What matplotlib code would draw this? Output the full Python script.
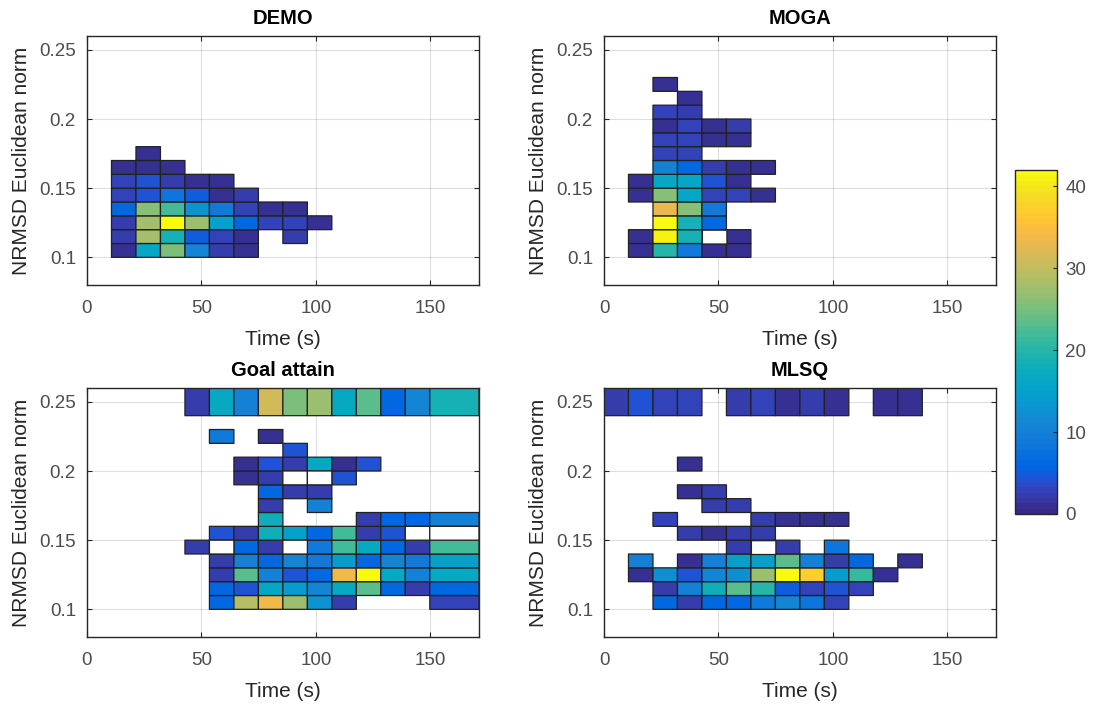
import numpy as np
import matplotlib
matplotlib.use("Agg")
import matplotlib.pyplot as plt
from matplotlib.colors import ListedColormap, Normalize
from matplotlib.cm import ScalarMappable

plt.rcParams['font.family'] = ['Liberation Sans', 'DejaVu Sans']

_ = np.nan

# ---------------- data ----------------
time_edges = [0, 10.7, 21.4, 32.1, 42.8, 53.5, 64.2, 74.9, 85.6, 96.3,
              107.0, 117.7, 128.4, 139.1, 149.8, 171.3]
nrmsd_edges = [0.10, 0.11, 0.12, 0.13, 0.14, 0.15, 0.16, 0.17, 0.18,
               0.19, 0.20, 0.21, 0.22, 0.23, 0.24, 0.26]

titles = ["DEMO", "MOGA", "Goal attain", "MLSQ"]

# counts, rows listed from top (0.24-0.26) down to bottom (0.10-0.11); nan = empty bin, 0 = empty outlined bin
demo_counts = [
    [_, _, _, _, _, _, _, _, _, _, _, _, _, _, _],
    [_, _, _, _, _, _, _, _, _, _, _, _, _, _, _],
    [_, _, _, _, _, _, _, _, _, _, _, _, _, _, _],
    [_, _, _, _, _, _, _, _, _, _, _, _, _, _, _],
    [_, _, _, _, _, _, _, _, _, _, _, _, _, _, _],
    [_, _, _, _, _, _, _, _, _, _, _, _, _, _, _],
    [_, _, _, _, _, _, _, _, _, _, _, _, _, _, _],
    [_, _, 1, _, _, _, _, _, _, _, _, _, _, _, _],
    [_, 1, 1, 1, _, _, _, _, _, _, _, _, _, _, _],
    [_, 3, 4, 2, 1, 1, _, _, _, _, _, _, _, _, _],
    [_, 3, 4, 8, 5, 1, 2, _, _, _, _, _, _, _, _],
    [_, 6, 26, 22, 13, 9, 3, 1, 1, _, _, _, _, _, _],
    [_, 2, 28, 42, 27, 15, 6, 3, 3, 1, _, _, _, _, _],
    [_, 2, 28, 19, 5, 3, 1, _, 2, _, _, _, _, _, _],
    [_, 1, 16, 25, 11, 2, 1, _, _, _, _, _, _, _, _],
]

moga_counts = [
    [_, _, _, _, _, _, _, _, _, _, _, _, _, _, _],
    [_, _, _, _, _, _, _, _, _, _, _, _, _, _, _],
    [_, _, 1, _, _, _, _, _, _, _, _, _, _, _, _],
    [_, _, _, 1, _, _, _, _, _, _, _, _, _, _, _],
    [_, _, 3, 2, _, _, _, _, _, _, _, _, _, _, _],
    [_, _, 1, 3, 1, 2, _, _, _, _, _, _, _, _, _],
    [_, _, 3, 3, 1, 1, _, _, _, _, _, _, _, _, _],
    [_, _, 3, 3, _, _, _, _, _, _, _, _, _, _, _],
    [_, _, 10, 6, 2, 1, 1, _, _, _, _, _, _, _, _],
    [_, 1, 16, 16, 4, 1, _, _, _, _, _, _, _, _, _],
    [_, 1, 26, 16, 3, 3, 1, _, _, _, _, _, _, _, _],
    [_, _, 33, 26, 9, _, _, _, _, _, _, _, _, _, _],
    [_, _, 42, 19, 6, _, _, _, _, _, _, _, _, _, _],
    [_, 1, 41, 19, 0, 1, _, _, _, _, _, _, _, _, _],
    [_, 1, 20, 9, 1, 1, _, _, _, _, _, _, _, _, _],
]

goal_counts = [
    [_, _, _, _, 2, 17, 10, 31, 25, 27, 17, 23, 6, 11, 19],
    [_, _, _, _, _, _, _, _, _, _, _, _, _, _, _],
    [_, _, _, _, _, 9, _, 1, _, _, _, _, _, _, _],
    [_, _, _, _, _, _, _, _, 4, _, _, _, _, _, _],
    [_, _, _, _, _, _, 1, 4, 2, 17, 1, 4, _, _, _],
    [_, _, _, _, _, _, 1, 2, 0, 0, 4, _, _, _, _],
    [_, _, _, _, _, _, _, 6, 2, 2, _, _, _, _, _],
    [_, _, _, _, _, _, _, 2, _, 10, _, _, _, _, _],
    [_, _, _, _, _, _, _, 18, _, _, _, 2, 6, 6, 10],
    [_, _, _, _, _, 4, 2, 18, 15, 6, 22, 2, 4, 0, 0],
    [_, _, _, _, 2, 0, 6, 2, 0, 9, 22, 17, 6, 2, 22],
    [_, _, _, _, _, 2, 10, 6, 11, 9, 14, 6, 11, 9, 15],
    [_, _, _, _, _, 2, 23, 10, 4, 6, 34, 42, 17, 10, 17],
    [_, _, _, _, _, 6, 4, 16, 14, 11, 17, 23, 6, 2, 6],
    [_, _, _, _, _, 6, 29, 34, 27, 13, 2, _, _, _, 3],
]

mlsq_counts = [
    [2, 4, 3, 3, _, 2, 3, 1, 2, 1, _, 1, 1, _, _],
    [_, _, _, _, _, _, _, _, _, _, _, _, _, _, _],
    [_, _, _, _, _, _, _, _, _, _, _, _, _, _, _],
    [_, _, _, _, _, _, _, _, _, _, _, _, _, _, _],
    [_, _, _, 1, _, _, _, _, _, _, _, _, _, _, _],
    [_, _, _, _, _, _, _, _, _, _, _, _, _, _, _],
    [_, _, _, 1, 2, _, _, _, _, _, _, _, _, _, _],
    [_, _, _, _, 2, 2, _, _, _, _, _, _, _, _, _],
    [_, _, 3, _, _, _, 2, 1, 1, 1, _, _, _, _, _],
    [_, _, _, 2, 1, 2, 2, _, _, _, _, _, _, _, _],
    [_, _, _, _, _, 2, 0, 2, _, 8, _, _, _, _, _],
    [_, 10, _, 1, 10, 15, 15, 23, 10, 2, 6, _, 1, _, _],
    [_, 1, 12, 4, 11, 12, 27, 42, 37, 14, 21, 1, _, _, _],
    [_, _, 2, 10, 18, 23, 20, 5, 3, 4, 3, _, _, _, _],
    [_, _, 6, 2, 6, 6, 9, 11, 8, 3, _, _, _, _, _],
]

count_max = 42
x_ticks = [0, 50, 100, 150]
y_ticks = [0.10, 0.15, 0.20, 0.25]
y_tick_labels = ["0.1", "0.15", "0.2", "0.25"]
cbar_ticks = [0, 10, 20, 30, 40]

# ---------------- parula colormap ----------------
parula_data = [
    [0.2081, 0.1663, 0.5292], [0.2116, 0.1898, 0.5777], [0.2123, 0.2138, 0.6270],
    [0.2081, 0.2386, 0.6771], [0.1959, 0.2645, 0.7279], [0.1707, 0.2919, 0.7792],
    [0.1253, 0.3242, 0.8303], [0.0591, 0.3598, 0.8683], [0.0117, 0.3875, 0.8820],
    [0.0060, 0.4086, 0.8828], [0.0165, 0.4266, 0.8786], [0.0329, 0.4430, 0.8720],
    [0.0498, 0.4586, 0.8641], [0.0629, 0.4737, 0.8554], [0.0723, 0.4887, 0.8467],
    [0.0779, 0.5040, 0.8384], [0.0793, 0.5200, 0.8312], [0.0749, 0.5375, 0.8263],
    [0.0641, 0.5570, 0.8240], [0.0488, 0.5772, 0.8228], [0.0343, 0.5966, 0.8199],
    [0.0265, 0.6137, 0.8135], [0.0239, 0.6287, 0.8038], [0.0231, 0.6418, 0.7913],
    [0.0228, 0.6535, 0.7768], [0.0267, 0.6642, 0.7607], [0.0384, 0.6743, 0.7436],
    [0.0590, 0.6838, 0.7254], [0.0843, 0.6928, 0.7062], [0.1133, 0.7015, 0.6859],
    [0.1453, 0.7098, 0.6646], [0.1801, 0.7177, 0.6424], [0.2178, 0.7250, 0.6193],
    [0.2586, 0.7317, 0.5954], [0.3022, 0.7376, 0.5712], [0.3482, 0.7424, 0.5473],
    [0.3953, 0.7459, 0.5244], [0.4420, 0.7481, 0.5033], [0.4871, 0.7491, 0.4840],
    [0.5300, 0.7491, 0.4661], [0.5709, 0.7485, 0.4494], [0.6099, 0.7473, 0.4337],
    [0.6473, 0.7456, 0.4188], [0.6834, 0.7435, 0.4044], [0.7184, 0.7411, 0.3905],
    [0.7525, 0.7384, 0.3768], [0.7858, 0.7356, 0.3633], [0.8185, 0.7327, 0.3498],
    [0.8507, 0.7299, 0.3360], [0.8824, 0.7274, 0.3217], [0.9139, 0.7258, 0.3063],
    [0.9450, 0.7261, 0.2886], [0.9739, 0.7314, 0.2666], [0.9938, 0.7455, 0.2403],
    [0.9990, 0.7653, 0.2164], [0.9955, 0.7861, 0.1967], [0.9880, 0.8066, 0.1794],
    [0.9789, 0.8271, 0.1633], [0.9697, 0.8481, 0.1475], [0.9626, 0.8705, 0.1309],
    [0.9589, 0.8949, 0.1132], [0.9598, 0.9218, 0.0948], [0.9661, 0.9514, 0.0755],
    [0.9763, 0.9831, 0.0538]]
parula = ListedColormap(parula_data, name="parula")
norm = Normalize(vmin=0, vmax=count_max)
white_cmap = ListedColormap(["white"])

dark = (0.15, 0.15, 0.15)

fig = plt.figure(figsize=(10.93, 7.09), dpi=100)
W, H = 1093, 709
def pos(l, t, r, b):
    return [l / W, 1 - b / H, (r - l) / W, (b - t) / H]

axes_pos = [pos(87, 36, 479, 285), pos(604, 36, 996, 285),
            pos(87, 388, 479, 637), pos(604, 388, 996, 637)]
all_counts = [demo_counts, moga_counts, goal_counts, mlsq_counts]

for p, counts, title in zip(axes_pos, all_counts, titles):
    ax = fig.add_axes(p)
    arr = np.flipud(np.array(counts, dtype=float))
    filled = np.ma.masked_where(~(arr > 0), arr)
    empty = np.ma.masked_where(~(arr == 0), arr)
    ax.pcolor(time_edges, nrmsd_edges, filled, cmap=parula, norm=norm,
              edgecolors=(0.13, 0.13, 0.13), linewidth=0.9)
    ax.pcolor(time_edges, nrmsd_edges, empty, cmap=white_cmap,
              edgecolors=(0.13, 0.13, 0.13), linewidth=0.9)
    ax.set_xlim(0, 171.3)
    ax.set_ylim(0.08, 0.26)
    ax.set_xticks(x_ticks)
    ax.set_yticks(y_ticks)
    ax.set_yticklabels(y_tick_labels)
    ax.set_axisbelow(True)
    ax.grid(True, color=(0.15, 0.15, 0.15), alpha=0.15, linewidth=0.8)
    ax.tick_params(direction='in', length=3.5, width=0.8, top=True, right=True,
                   labelsize=13.5, colors=dark, labelcolor=(0.3, 0.3, 0.3))
    ax.tick_params(axis='x', pad=11)
    ax.tick_params(axis='y', pad=8)
    for s in ax.spines.values():
        s.set_color(dark)
        s.set_linewidth(1.0)
    ax.set_xlabel("Time (s)", fontsize=15, color=dark, labelpad=9)
    ax.set_ylabel("NRMSD Euclidean norm", fontsize=15, color=dark, labelpad=6)
    ax.set_title(title, fontsize=14.5, fontweight='bold', color='black', pad=9)

cax = fig.add_axes(pos(1015, 170, 1057, 514))
cb = fig.colorbar(ScalarMappable(norm=norm, cmap=parula), cax=cax, ticks=cbar_ticks)
cb.outline.set_edgecolor(dark)
cb.outline.set_linewidth(1.0)
cax.tick_params(direction='in', length=3, width=0.8, labelsize=13.5,
                colors=dark, labelcolor=(0.3, 0.3, 0.3), pad=6)

fig.savefig("out.png", dpi=100, facecolor='white')
